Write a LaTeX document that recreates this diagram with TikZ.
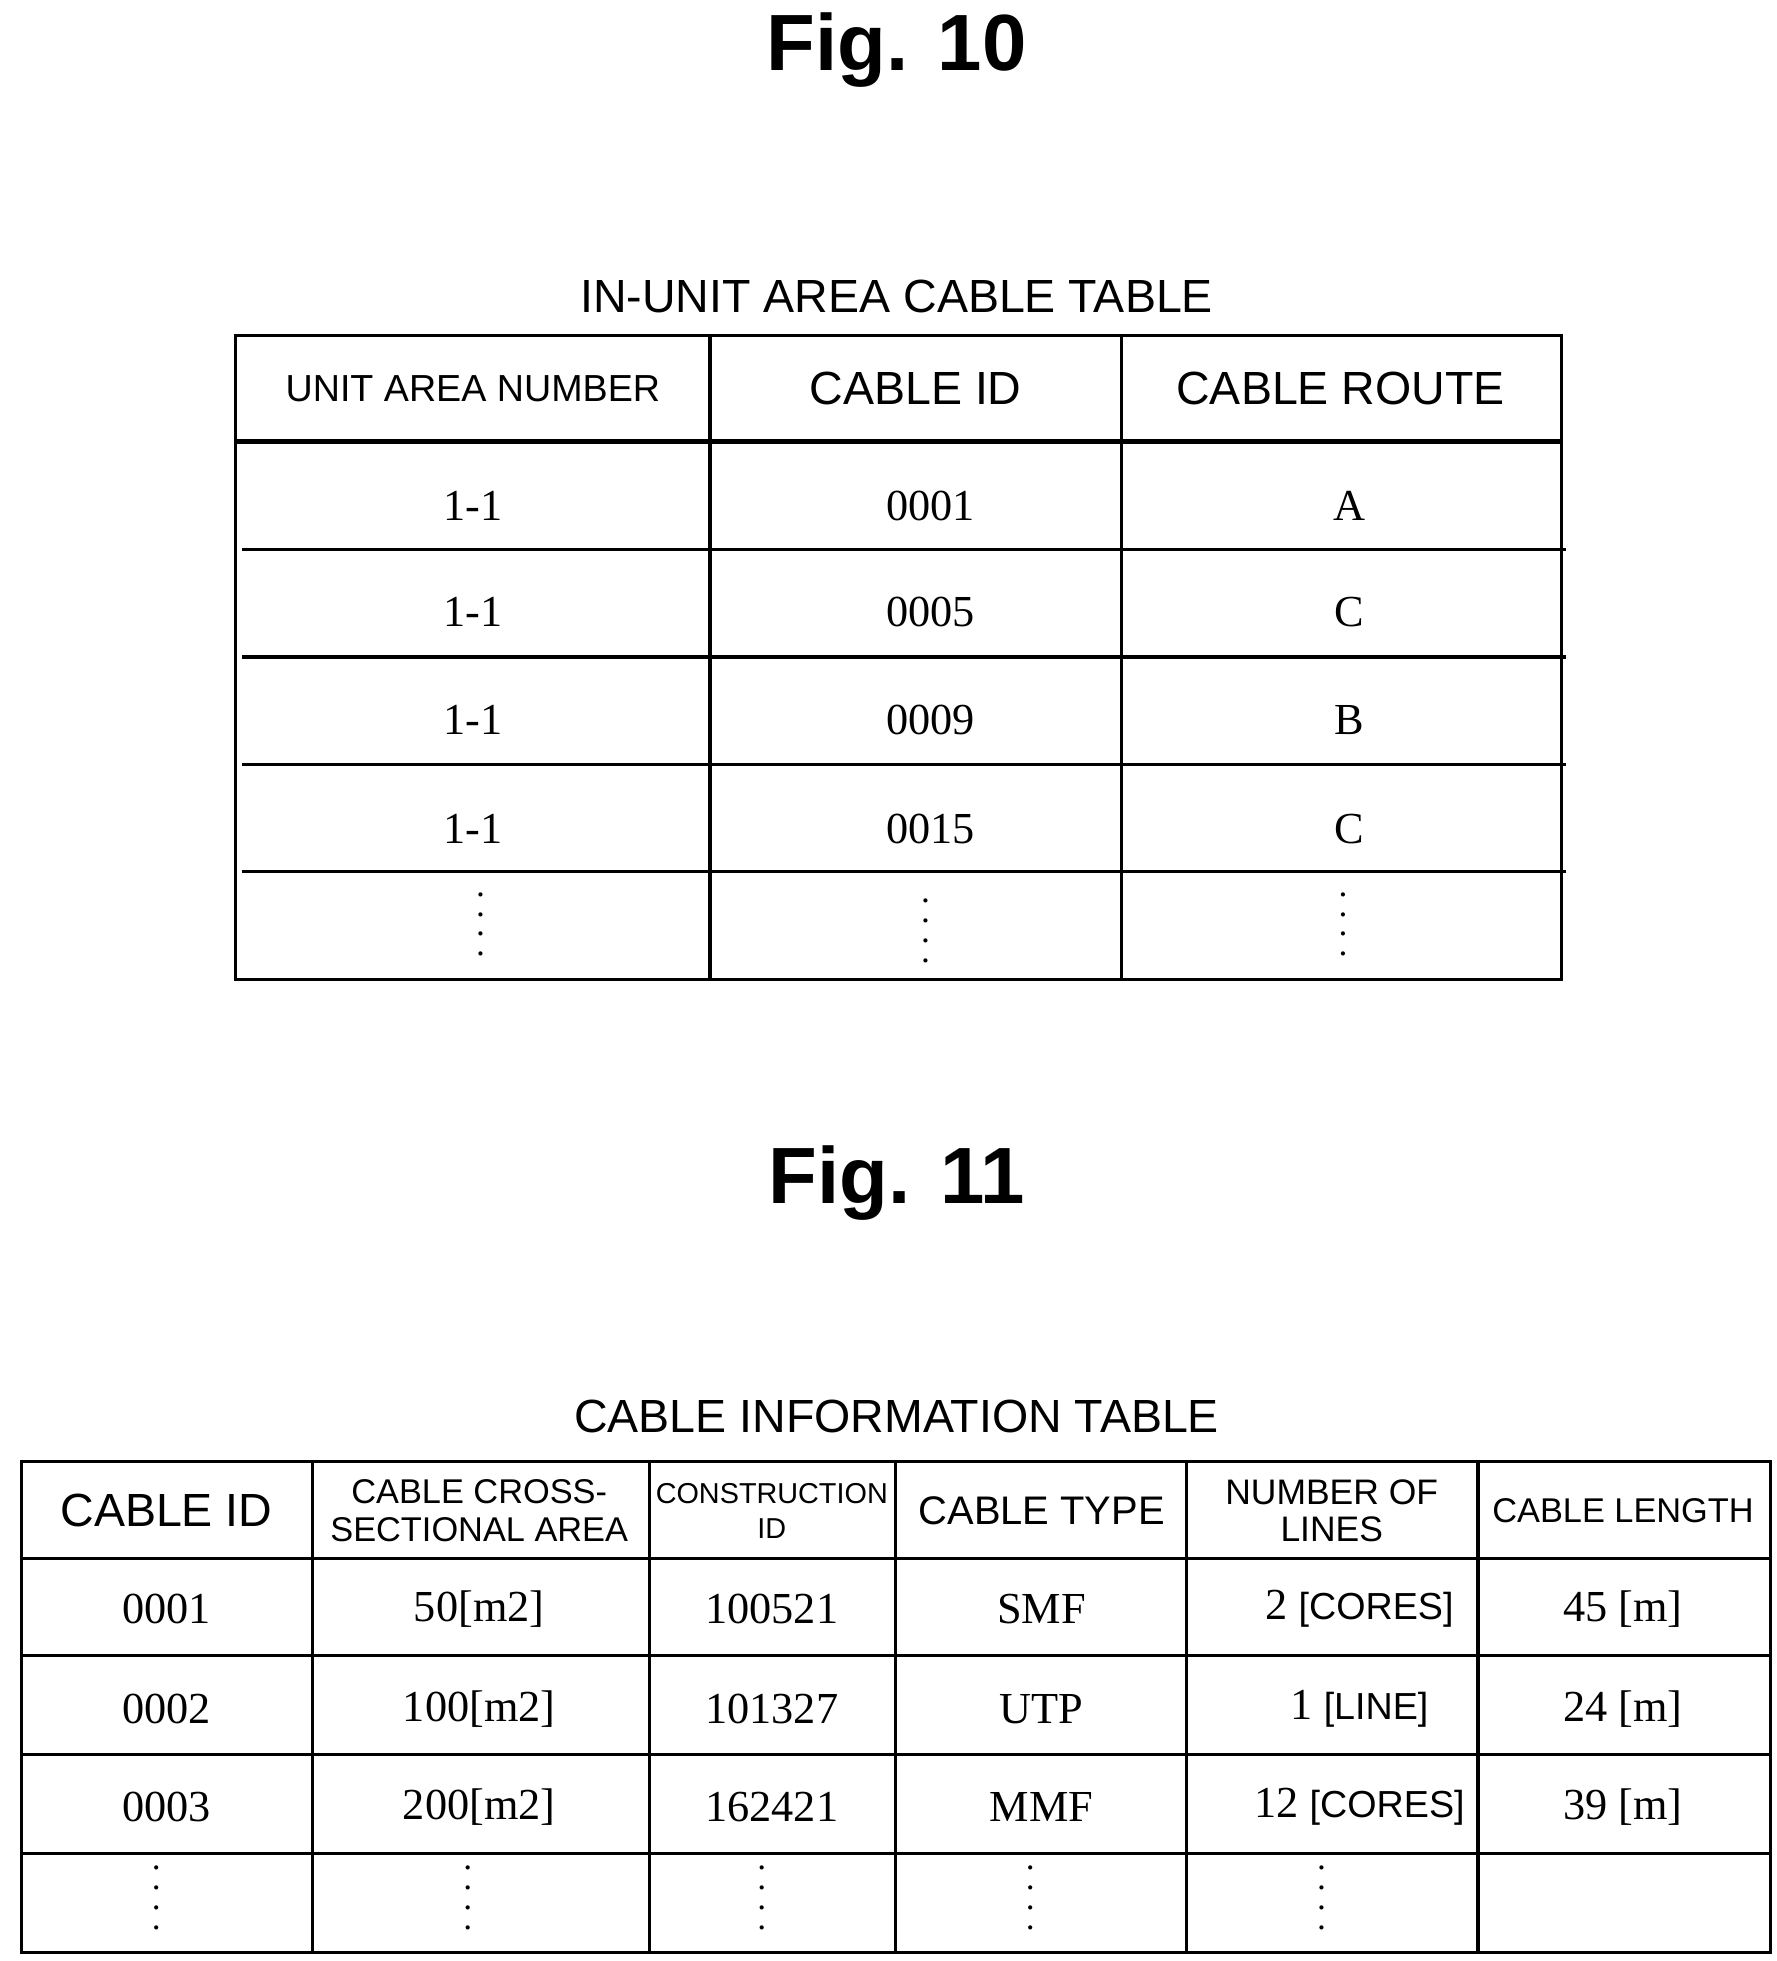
\documentclass[tikz,border=0pt]{standalone}
\usepackage{fontspec}
\setmainfont{Liberation Serif}
\setsansfont{Liberation Sans}
\usetikzlibrary{positioning,calc}

\newcommand{\dotcolumn}{\vbox{\baselineskip=9pt\hbox{.}\hbox{.}\hbox{.}\hbox{.}}}

\tikzset{
  figlabel/.style={font=\sffamily\bfseries\fontsize{36}{40}\selectfont},
  tabtitle/.style={font=\sffamily\fontsize{21}{24}\selectfont},
  headcell/.style={font=\sffamily\fontsize{21}{23}\selectfont, align=center},
  smallhead/.style={font=\sffamily\fontsize{17}{19}\selectfont, align=center},
  datacell/.style={font=\fontsize{20}{22}\selectfont},
  dotcell/.style={font=\fontsize{16}{9}\selectfont, inner sep=0pt},
  gridline/.style={line width=1.4pt},
  thickline/.style={line width=2.2pt}
}

\begin{document}
\begin{tikzpicture}[x=0.02cm, y=-0.02cm]
    \useasboundingbox (0,0) rectangle (1409,1555);

    % Fig. 10
    \node[figlabel] (fig10) at (711,40) {Fig. 10};
    \node[tabtitle] (title10) at (711,235) {IN-UNIT AREA CABLE TABLE};

    % first table grid
    \draw[gridline] (187,266) rectangle (1238,777);
    \draw[thickline] (187,350) -- (1238,350);
    \foreach \y in {436,521,606,691}
        \draw[gridline] (192,\y) -- (1242,\y);
    \foreach \x in {563,889}
        \draw[gridline] (\x,266) -- (\x,777);

    % header
    \node[headcell, font=\sffamily\fontsize{17}{19}\selectfont] (unitnum) at (375,308) {UNIT AREA NUMBER};
    \node[headcell] (cableid) at (726,308) {CABLE ID};
    \node[headcell] (cableroute) at (1063,308) {CABLE ROUTE};

    % rows
    \foreach \y/\cid/\rt [count=\i] in {401/0001/A, 485/0005/C, 571/0009/B, 657/0015/C} {
        \node[datacell] (unit\i) at (375,\y) {1-1};
        \node[datacell] (cid\i) at (738,\y) {\cid};
        \node[datacell] (route\i) at (1070,\y) {\rt};
    }
    \node[dotcell] (unitdots) at (381,733) {\dotcolumn};
    \node[dotcell] (ciddots) at (734,738) {\dotcolumn};
    \node[dotcell] (routedots) at (1065,733) {\dotcolumn};

    % Fig. 11
    \node[figlabel] (fig11) at (711,938) {Fig. 11};
    \node[tabtitle] (title11) at (711,1123) {CABLE INFORMATION TABLE};

    % second table grid
    \draw[gridline] (17,1159) rectangle (1404,1548);
    \foreach \y in {1236,1313,1391,1470}
        \draw[gridline] (17,\y) -- (1404,\y);
    \foreach \x in {248,515,710,941,1172}
        \draw[gridline] (\x,1159) -- (\x,1548);

    % header
    \node[headcell] (infoid) at (132,1198) {CABLE ID};
    \node[smallhead, font=\sffamily\fontsize{15.5}{17}\selectfont] (infoarea) at (380,1198) {CABLE CROSS-\\SECTIONAL AREA};
    \node[smallhead, font=\sffamily\fontsize{13}{16}\selectfont] (infocons) at (612,1198) {CONSTRUCTION\\ID};
    \node[headcell, font=\sffamily\fontsize{18}{20}\selectfont] (infotype) at (826,1198) {CABLE TYPE};
    \node[smallhead, font=\sffamily\fontsize{16}{17}\selectfont] (infolines) at (1056,1198) {NUMBER OF\\LINES};
    \node[headcell, font=\sffamily\fontsize{15.5}{18}\selectfont] (infolen) at (1287,1198) {CABLE LENGTH};

    % rows
    \foreach \y/\cid/\ar/\con/\ty/\num/\len [count=\i] in
        {1276/0001/50/100521/SMF/{2 {\sffamily\fontsize{17}{19}\selectfont[CORES]}}/45,
         1355/0002/100/101327/UTP/{1 {\sffamily\fontsize{17}{19}\selectfont[LINE]}}/24,
         1433/0003/200/162421/MMF/{12 {\sffamily\fontsize{17}{19}\selectfont[CORES]}}/39} {
        \node[datacell] (id\i) at (132,\y) {\cid};
        \node[datacell] (area\i) at (380,\y) {\ar[m2]};
        \node[datacell] (cons\i) at (612,\y) {\con};
        \node[datacell] (type\i) at (826,\y) {\ty};
        \node[datacell] (lines\i) at (1078,\y) {\num};
        \node[datacell] (len\i) at (1287,\y) {\len{} [m]};
    }
    \foreach \x [count=\i] in {124,371,604,817,1048}
        \node[dotcell] (infodots\i) at (\x,1505) {\dotcolumn};
\end{tikzpicture}
\end{document}
